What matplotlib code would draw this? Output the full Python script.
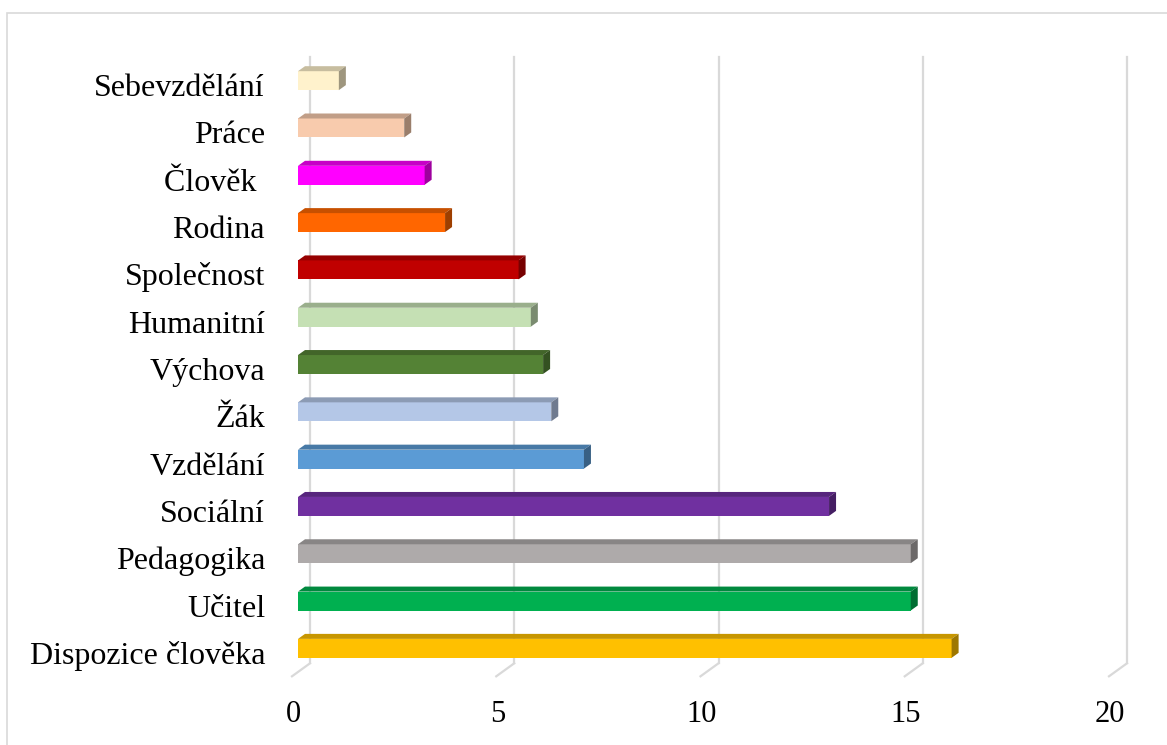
import matplotlib.pyplot as plt
from matplotlib.patches import Polygon, Rectangle
from matplotlib.transforms import ScaledTranslation
from matplotlib.colors import to_rgb

# data, bottom to top
categories = ['Dispozice člověka', 'Učitel', 'Pedagogika', 'Sociální', 'Vzdělání',
              'Žák', 'Výchova', 'Humanitní', 'Společnost', 'Rodina', 'Člověk ',
              'Práce', 'Sebevzdělání']
values = [16, 15, 15, 13, 7, 6.2, 6, 5.7, 5.4, 3.6, 3.1, 2.6, 1]
colors = ['#FFC000', '#00B050', '#AEAAAA', '#7030A0', '#5B9BD5', '#B4C7E7',
          '#548235', '#C5E0B4', '#C00000', '#FF6600', '#FF00FF', '#F8CBAD',
          '#FFF2CC']
ticks = [0, 5, 10, 15, 20]

W, H = 1167, 745
DPI = 100
plt.rcParams['font.family'] = ['Liberation Serif', 'DejaVu Serif']

fig = plt.figure(figsize=(W / DPI, H / DPI), dpi=DPI)
# axes in pixels: left 298, right 1115, top 57, bottom 672
ax = fig.add_axes([298 / W, (H - 672) / H, 817 / W, 615 / H])
ax.set_xlim(0, 20)
ax.set_ylim(-0.5, 12.5)
ax.axis('off')

px_x = 817 / 20.0
px_y = 615 / 13.0

# depth offsets (pixels -> data units)
bar_dx, bar_dy = 7 / px_x, 5 / px_y
back_dx, back_dy = 12 / px_x, 8.7 / px_y
front_dx, front_dy = -6 / px_x, -4.3 / px_y

grid_col = '#d9d9d9'
for t in ticks:
    ax.plot([t + back_dx, t + back_dx], [12.5, -0.5 + back_dy], color=grid_col,
            lw=1.6, clip_on=False, zorder=1)
    ax.plot([t + back_dx, t + front_dx], [-0.5 + back_dy, -0.5 + front_dy],
            color=grid_col, lw=1.6, clip_on=False, zorder=1)

def shade(c, f):
    r, g, b = to_rgb(c)
    return (r * f, g * f, b * f)

h = 0.4
ys = list(range(len(categories)))
ax.barh(ys, values, height=h, color=colors, zorder=3)
for y, v, c in zip(ys, values, colors):
    top = [(0, y + h / 2), (v, y + h / 2), (v + bar_dx, y + h / 2 + bar_dy),
           (bar_dx, y + h / 2 + bar_dy)]
    side = [(v, y - h / 2), (v, y + h / 2), (v + bar_dx, y + h / 2 + bar_dy),
            (v + bar_dx, y - h / 2 + bar_dy)]
    ax.add_patch(Polygon(top, closed=True, facecolor=shade(c, 0.78),
                         edgecolor='none', zorder=3, clip_on=False))
    ax.add_patch(Polygon(side, closed=True, facecolor=shade(c, 0.62),
                         edgecolor='none', zorder=3, clip_on=False))

# category labels
lab_tr = ax.transData + ScaledTranslation(-33 / DPI, -15.5 / DPI, fig.dpi_scale_trans)
for y, name in zip(ys, categories):
    ax.text(0, y, name, transform=lab_tr, ha='right', va='baseline',
            fontsize=23, color='black')

# value tick labels
tick_tr = ax.transData + ScaledTranslation(-5 / DPI, -50 / DPI, fig.dpi_scale_trans)
for t in ticks:
    ax.text(t, -0.5, str(t), transform=tick_tr, ha='center', va='baseline',
            fontsize=22, color='black')

# outer frame
fig.add_artist(Rectangle((6.5 / W, -0.1), 1.2, (H - 12.5) / H + 0.1,
                         transform=fig.transFigure, fill=False,
                         edgecolor='#d9d9d9', lw=1.2))

fig.savefig('out.png', dpi=DPI)
